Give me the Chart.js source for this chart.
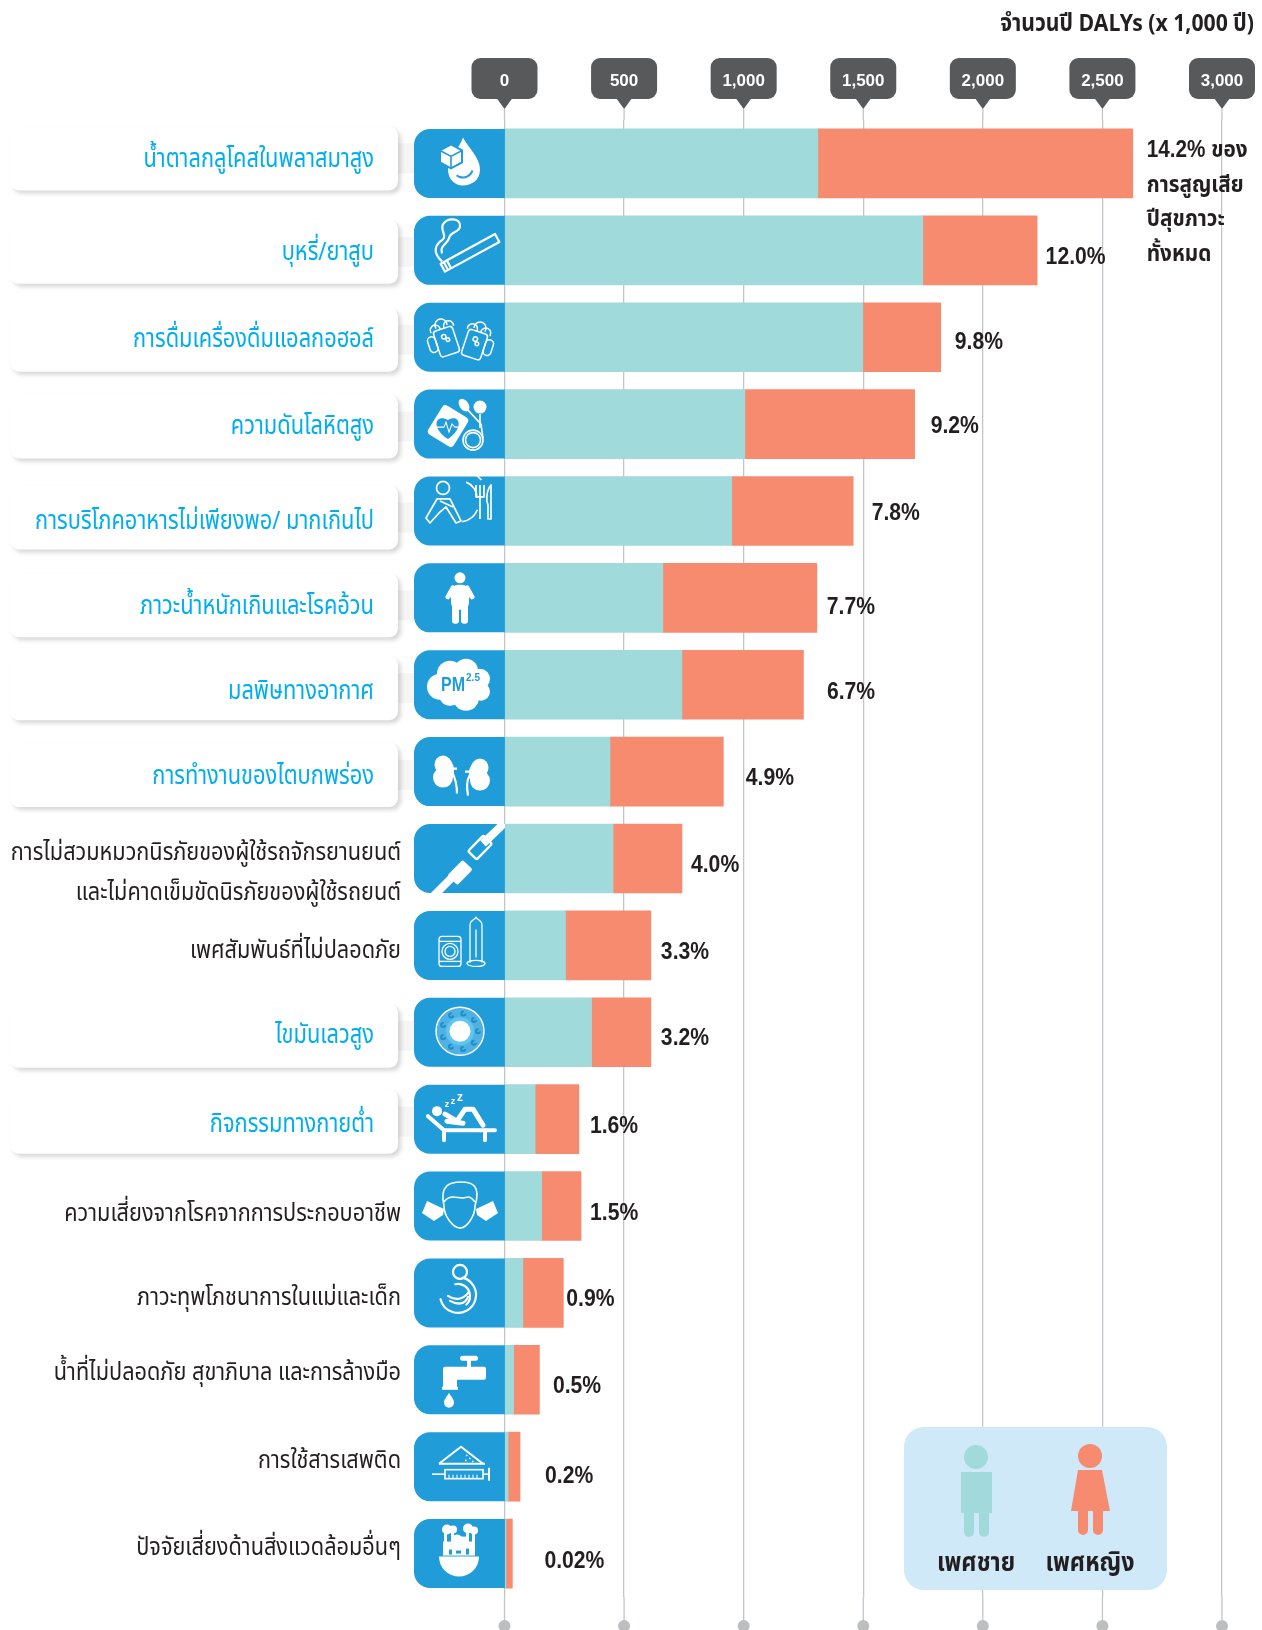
<!DOCTYPE html>
<html><head><meta charset="utf-8">
<style>html,body{margin:0;padding:0;background:#fff}canvas{display:block}</style>
<script src="https://cdn.jsdelivr.net/npm/chart.js@4/dist/chart.umd.min.js"></script>
</head><body><canvas id="c" width="1262" height="1630"></canvas>
<script>
const categories=[
['น้ำตาลกลูโคสในพลาสมาสูง'],['บุหรี่/ยาสูบ'],['การดื่มเครื่องดื่มแอลกอฮอล์'],['ความดันโลหิตสูง'],
['การบริโภคอาหารไม่เพียงพอ/ มากเกินไป'],['ภาวะน้ำหนักเกินและโรคอ้วน'],['มลพิษทางอากาศ'],['การทำงานของไตบกพร่อง'],
['การไม่สวมหมวกนิรภัยของผู้ใช้รถจักรยานยนต์','และไม่คาดเข็มขัดนิรภัยของผู้ใช้รถยนต์'],['เพศสัมพันธ์ที่ไม่ปลอดภัย'],['ไขมันเลวสูง'],['กิจกรรมทางกายต่ำ'],
['ความเสี่ยงจากโรคจากการประกอบอาชีพ'],['ภาวะทุพโภชนาการในแม่และเด็ก'],['น้ำที่ไม่ปลอดภัย สุขาภิบาล และการล้างมือ'],['การใช้สารเสพติด'],['ปัจจัยเสี่ยงด้านสิ่งแวดล้อมอื่นๆ']];
const maleValues=[1310,1749,1498,1005,950,662,742,441,454,255,364,128,155,77,38,15,6];
const femaleValues=[1317,478,326,710,508,644,508,474,288,357,248,183,165,169,108,50,27];
const shareLabels=[['14.2% ของ','การสูญเสีย','ปีสุขภาวะ','ทั้งหมด'],['12.0%'],['9.8%'],['9.2%'],['7.8%'],['7.7%'],['6.7%'],['4.9%'],['4.0%'],['3.3%'],['3.2%'],['1.6%'],['1.5%'],['0.9%'],['0.5%'],['0.2%'],['0.02%']];
const highlighted=[1,1,1,1,1,1,1,1,0,0,1,1,0,0,0,0,0];
const tickValues=[0,500,1000,1500,2000,2500,3000];
const titleText='จำนวนปี DALYs (x 1,000 ปี)';
const legendNames=['เพศชาย','เพศหญิง'];
const labelShift=[-6,0,0,0,8,6,5,3,-8,3,1,3,5,3,-9,-8,-8];
const cardShift=[-7.5,-1,0,0,4,5,1,1,0,0,1,0,0,0,0,0,0];
const shareGap=[14,8.5,14,16,18.5,10,23.5,22.5,9,10,10,11,9,3,13.5,25,32];
const shareShift=[0,7,5.5,3,3,10,8,7.5,7,7,6,8,8,7,7,10,8];
const TEAL='#a0dadb',SALMON='#f68b6f',BLUE='#209cd9',CYAN='#00aeef',INK='#231f20',BUB='#58595b',GRID='#c4c5c8';
const THAI='"Noto Sans Thai","Noto Sans","Liberation Sans",sans-serif';

function rr(ctx,x,y,w,h,r){ctx.beginPath();ctx.roundRect(x,y,w,h,r);}
function txt(ctx,s,x,y,sx){ctx.save();ctx.translate(x,y);ctx.scale(sx,1);ctx.fillText(s,0,0);ctx.restore();}
function circ(c,x,y,r){c.beginPath();c.arc(x,y,r,0,7);}
function line(c,...p){c.beginPath();c.moveTo(p[0],p[1]);for(let i=2;i<p.length;i+=2)c.lineTo(p[i],p[i+1]);c.stroke();}
const W='#fff';
const icons=[
 c=>{c.fillStyle=W;c.beginPath();c.moveTo(4,-26);c.bezierCurveTo(9,-16,21,-6,21,6);c.bezierCurveTo(21,17,12,22,4,22);c.bezierCurveTo(-4,22,-11,16,-11,6);c.bezierCurveTo(-11,-6,0,-14,4,-26);c.fill();
  c.strokeStyle=BLUE;c.lineWidth=2;c.beginPath();c.arc(4,4,10,0.1*Math.PI,0.72*Math.PI);c.stroke();
  c.lineWidth=2;c.beginPath();c.moveTo(-8,-19);c.lineTo(3,-13);c.lineTo(3,-1);c.lineTo(-8,5);c.lineTo(-19,-1);c.lineTo(-19,-13);c.closePath();c.fill();c.stroke();
  c.lineWidth=1.6;line(c,-19,-13,-8,-7,3,-13);line(c,-8,-7,-8,5);},
 c=>{c.strokeStyle=W;c.lineWidth=2.2;c.lineJoin='round';c.save();c.translate(11,2.5);c.rotate(-0.5);c.strokeRect(-31,-4.5,62,9);line(c,-24,-4.5,-24,4.5);line(c,-27.5,-4.5,-27.5,4.5);c.restore();
  c.beginPath();c.moveTo(-17,11);c.bezierCurveTo(-27,2,-24,-6,-16,-11);c.bezierCurveTo(-12,-15,-19,-20,-16,-26);c.bezierCurveTo(-12,-33,2,-33,1,-24);c.bezierCurveTo(0,-17,-9,-19,-10,-12);c.bezierCurveTo(-11,-7,-20,-4,-17,3);c.stroke();},
 c=>{c.strokeStyle=W;c.lineWidth=1.5;c.lineJoin='round';
  [[-13,3,-0.32,1],[16,6,0.32,-1]].forEach(m=>{c.save();c.translate(m[0],m[1]);c.rotate(m[2]);rr(c,-10,-12,20,27,3);c.stroke();rr(c,m[3]>0?-18:10,-8,8,16,4);c.stroke();
   [[-7,-13,5],[0,-16,6],[7,-13,5]].forEach(f=>{c.beginPath();c.arc(f[0],f[1],f[2],Math.PI*0.9,Math.PI*2.1);c.stroke();});
   circ(c,-1,-4,2.2);c.stroke();circ(c,2,0,1.8);c.stroke();c.restore();});},
 c=>{c.fillStyle=W;c.save();c.translate(-11,2);c.rotate(0.55);rr(c,-15,-17,30,34,4);c.fill();c.restore();
  c.fillStyle=BLUE;c.beginPath();c.moveTo(-11,15);c.bezierCurveTo(-30,2,-22,-11,-11,-4);c.bezierCurveTo(-1,-11,7,2,-11,15);c.fill();
  c.strokeStyle=W;c.lineWidth=1.1;line(c,-22,3,-15,3,-13,-2,-10,8,-7,0,-4,3,0,3);
  c.fillStyle=W;circ(c,21,-17,6.5);c.fill();c.beginPath();c.ellipse(5,-19,4.5,7,-0.6,0,7);c.fill();
  c.strokeStyle=W;c.lineWidth=1.6;circ(c,14,16,7.5);c.stroke();circ(c,14,16,10);c.stroke();line(c,9,-14,22,0,24,14);line(c,21,-10,21,4);},
 c=>{c.strokeStyle=W;c.lineWidth=1.7;c.lineJoin='round';circ(c,-16,-23,6.5);c.stroke();
  c.beginPath();c.moveTo(-22,-12);c.lineTo(-33,7);c.lineTo(-29,12);c.lineTo(-20,2);c.lineTo(-13,-4);c.lineTo(-3,12);c.lineTo(2,10);c.lineTo(-9,-12);c.closePath();c.stroke();line(c,-19,-10,-6,-4);
  c.beginPath();c.arc(1,-13,17,-1.2,0);c.stroke();c.beginPath();c.arc(1,-13,28,-1.3,-0.7);c.stroke();c.beginPath();c.arc(0,-9,20,0.4,1.4);c.stroke();
  line(c,21,-26,21,8);line(c,17,-26,17,-14,25,-14,25,-26);c.beginPath();c.moveTo(32,8);c.lineTo(32,-26);c.bezierCurveTo(27,-20,27,-10,29,-6);c.lineTo(29,8);c.closePath();c.stroke();},
 c=>{c.fillStyle=W;circ(c,1,-20,5.5);c.fill();rr(c,-8,-13,18,25,7);c.fill();c.strokeStyle=W;c.lineWidth=5;c.lineCap='round';line(c,-6,-10,-11,-1);line(c,8,-10,13,-1);rr(c,-7,6,7,20,3);c.fill();rr(c,2,6,7,20,3);c.fill();},
 c=>{c.fillStyle=W;[[-19,2,13],[-9,-11,13],[7,-14,12],[21,-6,10],[22,7,9],[7,13,13],[-9,10,11]].forEach(p=>{circ(c,p[0],p[1],p[2]);c.fill();});rr(c,-20,-10,40,22,4);c.fill();
  c.fillStyle=BLUE;c.textAlign='center';c.textBaseline='middle';c.font='bold 20px "Liberation Sans"';txt(c,'PM',-6,1,0.8);c.font='bold 10px "Liberation Sans"';c.fillText('2.5',14,-6);},
 c=>{c.fillStyle=W;[[-16,-1],[21,2]].forEach((p,i)=>{c.beginPath();c.ellipse(p[0],p[1]-6,8.5,9,0,0,7);c.fill();c.beginPath();c.ellipse(p[0],p[1]+7,10,10,0,0,7);c.fill();c.beginPath();c.ellipse(p[0]+(i?-2:2),p[1],9,13,0,0,7);c.fill();});
  c.strokeStyle=W;c.lineWidth=2.2;c.beginPath();c.moveTo(-8,-3);c.lineTo(-2,-3);c.moveTo(-7,0);c.bezierCurveTo(-3,8,-2,14,-2,22);c.stroke();c.beginPath();c.moveTo(12,0);c.lineTo(6,0);c.moveTo(11,3);c.bezierCurveTo(7,10,8,16,9,24);c.stroke();},
 c=>{c.save();rr(c,-45,-34.5,91,69,[16,0,0,16]);c.clip();c.strokeStyle=W;c.lineWidth=8;line(c,-26,38,-5,17);line(c,24,-15,48,-38);c.restore();
  c.fillStyle=W;c.save();c.translate(1,14);c.rotate(-0.8);rr(c,-11,-7,22,14,2);c.fill();c.restore();
  c.strokeStyle=W;c.lineWidth=2.4;c.save();c.translate(21,-11);c.rotate(-0.8);rr(c,-11,-6,22,12,2);c.stroke();c.restore();},
 c=>{c.strokeStyle=W;c.lineWidth=1.3;rr(c,-20,-9,22,30,3);c.stroke();line(c,-20,-4,2,-4);line(c,-20,16,2,16);circ(c,-9,6,8);c.stroke();circ(c,-9,6,5);c.stroke();
  c.beginPath();c.moveTo(11,17);c.lineTo(11,-20);c.bezierCurveTo(11,-25,15,-25,17,-28);c.bezierCurveTo(19,-25,23,-25,23,-20);c.lineTo(23,17);c.stroke();c.beginPath();c.ellipse(17,18,9,3,0,0,7);c.stroke();line(c,17,-16,17,12);},
 c=>{c.fillStyle='#4fb1e4';circ(c,1,-1,24);c.fill();c.strokeStyle=W;c.lineWidth=1.4;circ(c,1,-1,24);c.stroke();
  c.strokeStyle='#1c8fc9';c.lineWidth=2;for(const a of [0,.7,1.4,2.1,2.8,3.5,4.2,4.9,5.6]){c.beginPath();c.arc(1+18*Math.cos(a),-1+18*Math.sin(a),2,0,5);c.stroke();}
  c.fillStyle='#61c6ee';circ(c,1,-1,14);c.fill();c.fillStyle=W;circ(c,1,-1,10.5);c.fill();},
 c=>{c.fillStyle=W;c.strokeStyle=W;c.lineJoin='round';c.lineCap='round';c.lineWidth=4;line(c,-31,-3,-15,11,36,11);c.lineWidth=4;line(c,-15,11,-15,21);line(c,26,11,26,21);
  circ(c,-22,-8,5);c.fill();c.lineWidth=5;line(c,-14,-5,-2,2,6,-10,14,-10,24,6);line(c,-12,2,4,4);
  c.font='bold 9px "Liberation Sans"';c.textAlign='center';c.textBaseline='middle';c.fillText('z',-12,-15);c.fillText('z',-6,-18);c.font='bold 12px "Liberation Sans"';c.fillText('z',1,-21);},
 c=>{c.strokeStyle=W;c.lineWidth=1.6;c.lineJoin='round';c.beginPath();c.moveTo(-15,0);c.bezierCurveTo(-20,-22,-8,-24,2,-24);c.bezierCurveTo(14,-24,22,-20,16,0);c.bezierCurveTo(16,10,8,22,1,22);c.bezierCurveTo(-6,22,-15,10,-15,0);c.stroke();
  c.beginPath();c.moveTo(-15,-4);c.bezierCurveTo(-10,-12,-2,-8,3,-8);c.bezierCurveTo(8,-8,10,-12,16,-4);c.stroke();
  c.fillStyle=W;[1,-1].forEach(s=>{c.beginPath();c.moveTo(1+s*16,3);c.lineTo(1+s*33,-5);c.lineTo(1+s*38,7);c.lineTo(1+s*26,15);c.lineTo(1+s*17,9);c.closePath();c.fill();});},
 c=>{c.strokeStyle=W;c.lineWidth=2.2;c.lineCap='round';circ(c,1,-21,7);c.stroke();c.beginPath();c.arc(-1,2,18,-1.3,2.9);c.stroke();c.beginPath();c.arc(-1,3,12,-1.8,0.8);c.stroke();
  c.beginPath();c.moveTo(-11,3);c.bezierCurveTo(-4,8,4,7,10,-1);c.moveTo(-9,8);c.bezierCurveTo(-2,12,6,12,9,4);c.stroke();},
 c=>{c.fillStyle=W;rr(c,1,-24,18,5,2.5);c.fill();c.fillRect(8,-20,4,8);rr(c,-16,-13,43,13,2);c.fill();c.beginPath();c.arc(-6,-3,10,Math.PI,1.5*Math.PI);c.fill();c.fillRect(-16,-4,14,12);c.fillRect(-17,7,16,3);c.beginPath();c.moveTo(-10,13);c.bezierCurveTo(-12,17,-15,19,-15,23);c.arc(-10,23,5,Math.PI,0,true);c.bezierCurveTo(-5,19,-8,17,-10,13);c.fill();},
 c=>{c.strokeStyle=W;c.lineWidth=2;line(c,-20,-3,2,-20,24,-3);line(c,-20,-3,26,-3);c.lineWidth=1.6;c.strokeRect(-14,3,38,9);line(c,-27,7.5,-14,7.5);line(c,24,7.5,30,7.5);c.lineWidth=2;line(c,30,1,30,14);c.lineWidth=1;for(let t=-10;t<22;t+=4)line(c,t,8,t,12);
  c.fillStyle=W;[[7,-12],[10,-9],[13,-6],[6,-7]].forEach(p=>c.fillRect(p[0],p[1],1.5,1.5));},
 c=>{c.fillStyle=W;c.beginPath();c.arc(0,3,20,0,Math.PI);c.fill();c.fillRect(-16,-12,32,14);
  c.fillRect(-15,-24,3,18);c.fillRect(-8,-24,3,18);c.fillRect(7,-24,3,18);c.fillRect(13,-24,3,18);
  [[-12,-24,5],[-6,-24,4],[9,-25,5],[15,-23,4],[-2,-13,6],[5,-12,5]].forEach(p=>{circ(c,p[0],p[1],p[2]);c.fill();});
  c.fillStyle=BLUE;c.fillRect(-10,-4,3,5);c.fillRect(-3,-3,5,3);c.fillRect(7,-5,3,6);}
];
const deco={id:'deco',
 beforeDraw(ch){const {ctx,scales:{x}}=ch;ctx.save();
  tickValues.forEach(v=>{const p=x.getPixelForValue(v);ctx.fillStyle=BUB;rr(ctx,p-33,58,66,41,9);ctx.fill();
   ctx.beginPath();ctx.moveTo(p-8,98);ctx.lineTo(p,109);ctx.lineTo(p+8,98);ctx.fill();});
  ctx.fillStyle=INK;ctx.font='bold 24px '+THAI;ctx.textAlign='right';ctx.textBaseline='middle';txt(ctx,titleText,1254,26,0.884);
  ctx.restore();},
 beforeDatasetsDraw(ch){const {ctx,scales:{x,y},chartArea:a}=ch;ctx.save();
  tickValues.forEach(v=>{const p=x.getPixelForValue(v);ctx.strokeStyle=GRID;ctx.lineWidth=1.3;ctx.beginPath();ctx.moveTo(p,109);ctx.lineTo(p,a.top);ctx.moveTo(p,a.bottom);ctx.lineTo(p,1626);ctx.stroke();
   ctx.fillStyle='#bcbec0';ctx.beginPath();ctx.arc(p,1626,6,0,7);ctx.fill();});
  categories.forEach((c,i)=>{const cy=y.getPixelForValue(i);
   if(highlighted[i]){const b=cy+34.5+cardShift[i];
    ctx.fillStyle='#f5f5f6';ctx.fillRect(398,b-47,16,30);
    ctx.save();ctx.shadowColor='rgba(0,0,0,0.16)';ctx.shadowBlur=4;ctx.shadowOffsetX=3;ctx.shadowOffsetY=3;ctx.fillStyle='#fff';rr(ctx,10,b-64,388,64,9);ctx.fill();ctx.restore();}
   ctx.fillStyle=BLUE;rr(ctx,414,cy-34.5,91,69,[16,0,0,16]);ctx.fill();
  });
  ctx.restore();},
 afterDatasetsDraw(ch){const {ctx,scales:{x,y}}=ch;ctx.save();
  categories.forEach((lines,i)=>{const c0=y.getPixelForValue(i),cy=c0+labelShift[i]+4.5;
   ctx.save();ctx.translate(459,c0);ctx.strokeStyle=W;ctx.fillStyle=W;icons[i](ctx);ctx.restore();
   ctx.textBaseline='middle';ctx.textAlign='right';
   if(highlighted[i]){ctx.fillStyle=CYAN;ctx.font='26px '+THAI;txt(ctx,lines[0],374,cy,0.84);}
   else{ctx.fillStyle=INK;ctx.font='25px '+THAI;lines.forEach((t,k)=>txt(ctx,t,401,cy+k*40,0.868));}
   const end=x.getPixelForValue(maleValues[i]+femaleValues[i])+shareGap[i];
   ctx.textAlign='left';ctx.fillStyle=INK;ctx.font='bold 23px "Liberation Sans",'+THAI;
   const L=shareLabels[i];
   if(L.length>1)L.forEach((t,k)=>txt(ctx,t,end,151+k*34.5,0.9));
   else txt(ctx,L[0],end,c0+shareShift[i],0.92);
  });
  ctx.fillStyle='#cfe9f8';rr(ctx,904,1427,263,163,20);ctx.fill();
  ctx.fillStyle=TEAL;circ(ctx,976,1457,12);ctx.fill();ctx.fillRect(961,1472,31,41);rr(ctx,964,1505,10,32,5);ctx.fill();rr(ctx,979,1505,10,32,5);ctx.fill();
  ctx.fillStyle=SALMON;circ(ctx,1090,1456,12);ctx.fill();ctx.beginPath();ctx.moveTo(1078,1470);ctx.lineTo(1102,1470);ctx.lineTo(1110,1511);ctx.lineTo(1071,1511);ctx.fill();rr(ctx,1078,1503,10,32,5);ctx.fill();rr(ctx,1093,1503,10,32,5);ctx.fill();
  ctx.fillStyle=INK;ctx.font='bold 27px '+THAI;ctx.textAlign='center';ctx.textBaseline='middle';txt(ctx,legendNames[0],976,1566,0.86);txt(ctx,legendNames[1],1090,1566,0.86);
  ctx.restore();}
};
new Chart(document.getElementById('c'),{type:'bar',plugins:[deco],
 data:{labels:categories.map(c=>c.join(' ')),datasets:[
  {label:'เพศชาย',data:maleValues,backgroundColor:TEAL,barThickness:69},
  {label:'เพศหญิง',data:femaleValues,backgroundColor:SALMON,barThickness:69}]},
 options:{indexAxis:'y',responsive:false,animation:false,devicePixelRatio:1,
  layout:{padding:{top:0,right:40,left:0,bottom:33}},
  plugins:{legend:{display:false},tooltip:{enabled:false}},
  scales:{
   x:{position:'top',stacked:true,min:0,max:3000,afterFit(s){s.height=120;s.paddingRight=0;s.paddingLeft=0;},afterBuildTicks(s){s.ticks=tickValues.map(v=>({value:v}));},
    grid:{color:GRID,lineWidth:1.3,drawTicks:false},border:{display:false},
    ticks:{padding:28,maxRotation:0,autoSkip:false,color:'#fff',font:{family:'"Liberation Sans"',size:17,weight:'bold'},callback:v=>v.toLocaleString('en-US')}},
   y:{stacked:true,afterFit(s){s.width=504.5;},grid:{display:false},border:{display:false},ticks:{display:false}}
  }}});
</script></body></html>
